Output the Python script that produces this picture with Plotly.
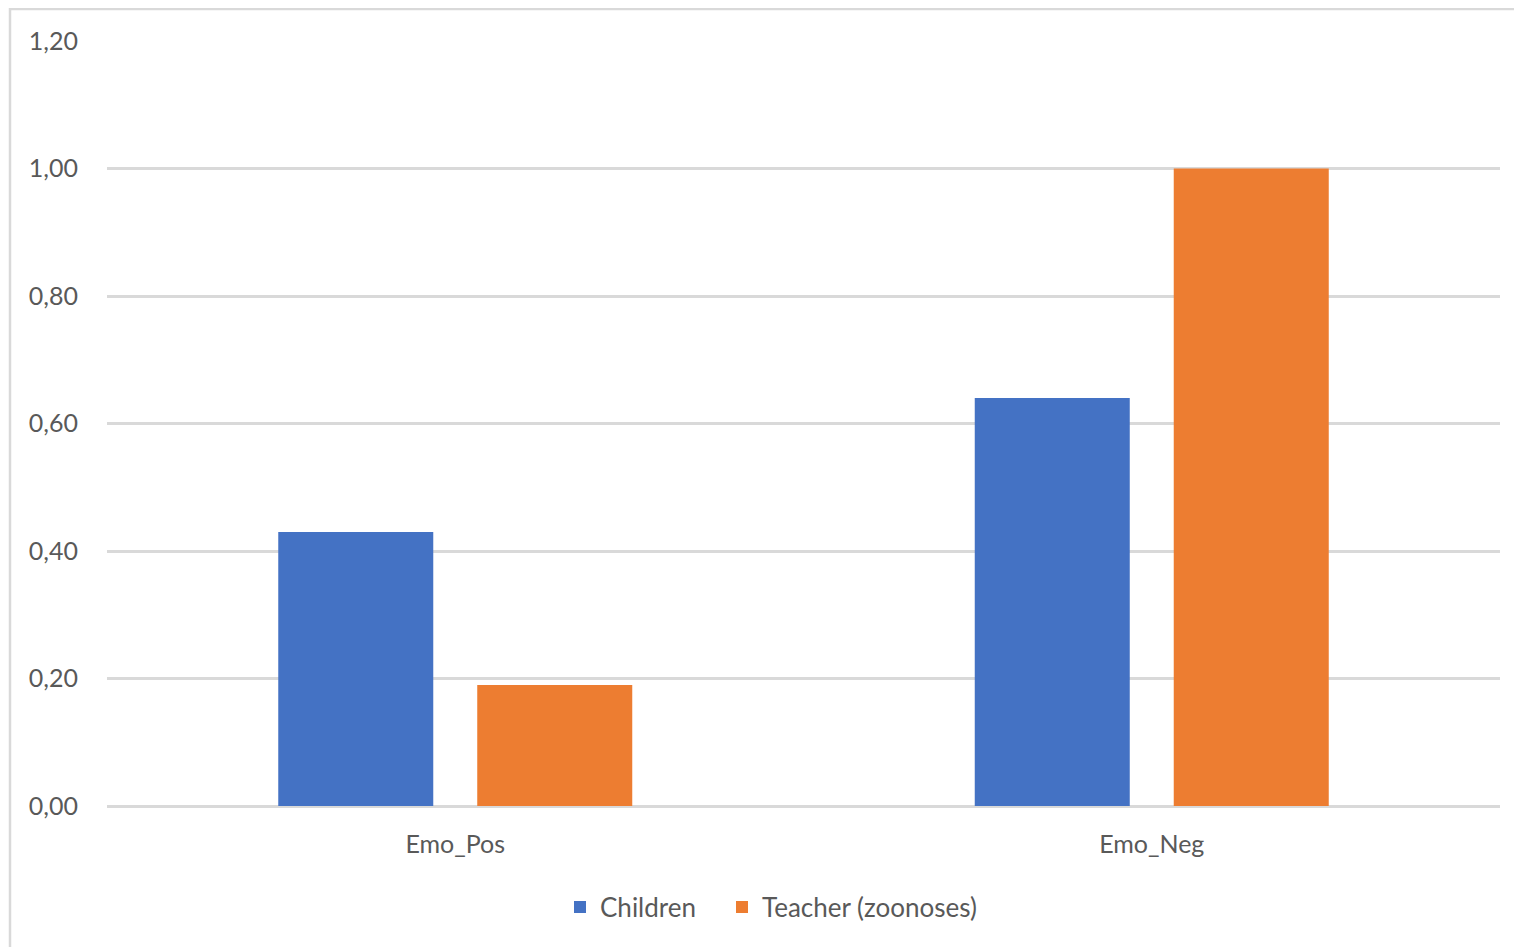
import plotly.graph_objects as go

categories = ["Emo_Pos", "Emo_Neg"]
children = [0.43, 0.64]
teacher = [0.19, 1.00]
series_names = ["Children", "Teacher (zoonoses)"]
colors = ["#4472C4", "#ED7D31"]
y_ticks = [0, 0.2, 0.4, 0.6, 0.8, 1.0, 1.2]

# page has an 8px body offset, so work in figure coords
OFF = 8
W, H = 1522 - OFF, 947 - OFF
L, R, T, B = 107 - OFF, 22, 41 - OFF, 141
font = "Lato"
txt = "#595959"

pw = W - L - R
ph = H - T - B
def px_x(x): return (x - OFF - L) / pw
def px_y(y): return (H - B - (y - OFF)) / ph

fig = go.Figure()
legend_ids = ["legend", "legend2"]
for name, vals, col, lg in zip(series_names, [children, teacher], colors, legend_ids):
    fig.add_trace(go.Bar(x=categories, y=vals, name=name, legend=lg,
                         marker=dict(color=col, line=dict(width=0))))

leg_common = dict(orientation="h", xanchor="left", yanchor="middle", y=px_y(907),
                  font=dict(size=26, color=txt), itemwidth=30, bgcolor="rgba(0,0,0,0)")

fig.update_layout(
    width=W, height=H,
    margin=dict(l=L, r=R, t=T, b=B),
    paper_bgcolor="white", plot_bgcolor="white",
    barmode="group", bargap=0.4286, bargroupgap=0.221,
    separators=",.",
    font=dict(family=font, color=txt, size=25),
    showlegend=True,
    legend=dict(x=px_x(560), **leg_common),
    legend2=dict(x=px_x(722), **leg_common),
    xaxis=dict(showgrid=False, showline=False, ticks="outside", ticklen=16, tickcolor="rgba(0,0,0,0)",
               tickfont=dict(size=25, color=txt)),
    yaxis=dict(range=[0, 1.2], tickvals=y_ticks, tickformat=".2f",
               showgrid=True, gridcolor="#d9d9d9", gridwidth=2.5,
               zeroline=True, zerolinecolor="#d9d9d9", zerolinewidth=2.5,
               showline=False, ticks="outside", ticklen=23, tickcolor="rgba(0,0,0,0)",
               tickfont=dict(size=25, color=txt)),
    shapes=[dict(type="rect", xref="paper", yref="paper",
                 x0=px_x(10), x1=px_x(1521), y0=px_y(960), y1=px_y(9),
                 line=dict(color="#d9d9d9", width=2.5), fillcolor="rgba(0,0,0,0)", layer="below")],
)

fig.write_html("out.html")
